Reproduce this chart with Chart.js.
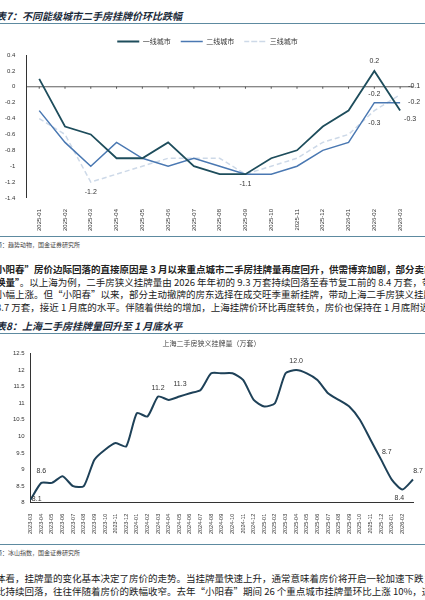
<!DOCTYPE html>
<html><head><meta charset="utf-8">
<script src="https://cdn.jsdelivr.net/npm/chart.js@4"></script>
<style>
body{margin:0;width:425px;height:600px;overflow:hidden;background:#fff;font-family:"Noto Sans CJK SC",sans-serif;position:relative}
.t{position:absolute;white-space:nowrap;color:#222}
.h{font-size:10px;font-weight:bold;font-style:italic;color:#1a2a3a}
.rule{position:absolute;left:0;width:425px;height:1px;background:#5d8aa0}
.src{font-size:6px;color:#444}
.p{font-size:9.5px;line-height:12.5px;color:#222}
canvas{position:absolute}
</style></head><body>
<div class="t h" style="left:-4px;top:8px">表7：不同能级城市二手房挂牌价环比跌幅</div>
<div class="rule" style="top:23px"></div>
<div style="position:absolute;left:0;top:28px;width:425px;height:206px"><canvas id="c1"></canvas></div>
<div class="rule" style="top:236px"></div>
<div class="t src" style="left:-4px;top:240px">源：趋势动物，国金证券研究所</div>
<div class="t p" style="left:-4px;top:263px"><b>小阳春”房价边际回落的直接原因是 3 月以来重点城市二手房挂牌量再度回升，供需博弈加剧，部分卖家选择“</b><br><b>换量”</b>。以上海为例，二手房狭义挂牌量由 2026 年年初的 9.3 万套持续回落至春节复工前的 8.4 万套，带动上海<br>小幅上涨。但“小阳春”以来，部分主动撤牌的房东选择在成交旺季重新挂牌，带动上海二手房狭义挂牌量再度<br>8.7 万套，接近 1 月底的水平。伴随着供给的增加，上海挂牌价环比再度转负，房价也保持在 1 月底附近的水平</div>
<div class="t h" style="left:-4px;top:318px">表8：上海二手房挂牌量回升至 1 月底水平</div>
<div class="rule" style="top:333px"></div>
<div style="position:absolute;left:0;top:337px;width:425px;height:200px"><canvas id="c2"></canvas></div>
<div class="rule" style="top:544px"></div>
<div class="t src" style="left:-4px;top:548px">源：冰山指数，国金证券研究所</div>
<div class="t p" style="left:-4px;top:572px">体看，挂牌量的变化基本决定了房价的走势。当挂牌量快速上升，通常意味着房价将开启一轮加速下跌；当挂牌<br>比持续回落，往往伴随着房价的跌幅收窄。去年“小阳春”期间 26 个重点城市挂牌量环比上涨 10%，这也是“金</div>
<script>
const months1 = ['2025-01','2025-02','2025-03','2025-04','2025-05','2025-06','2025-07','2025-08','2025-09','2025-10','2025-11','2025-12','2026-01','2026-02','2026-03'];
const tier1 = [0.1,-0.5,-0.6,-0.9,-0.9,-0.7,-1.0,-1.1,-1.1,-0.9,-0.8,-0.5,-0.3,0.2,-0.3];
const tier2 = [-0.3,-0.7,-1.0,-0.7,-0.9,-1.0,-0.9,-1.0,-1.1,-1.1,-1.0,-0.8,-0.7,-0.2,-0.2];
const tier3 = [-0.4,-0.6,-1.2,-1.1,-1.0,-0.9,-0.9,-0.9,-1.1,-1.0,-0.9,-0.7,-0.6,-0.3,-0.1];
const months2 = ['2023-03','2023-04','2023-05','2023-06','2023-07','2023-08','2023-09','2023-10','2023-11','2023-12',
 '2024-01','2024-02','2024-03','2024-04','2024-05','2024-06','2024-07','2024-08','2024-09','2024-10','2024-11','2024-12',
 '2025-01','2025-02','2025-03','2025-04','2025-05','2025-06','2025-07','2025-08','2025-09','2025-10','2025-11','2025-12',
 '2026-01','2026-02','2026-03'];
const listings = [8.1,8.6,8.6,8.8,8.5,8.5,9.3,9.6,9.8,9.7,10.7,10.6,11.2,11.1,11.2,11.3,11.4,11.9,11.9,11.9,11.7,11.1,
 10.9,11.0,11.9,12.0,11.9,11.7,11.3,11.1,10.9,10.5,9.9,9.3,8.7,8.4,8.7];

// point labels: [dataset, index, text, dx, dy]
const labels1 = [[0,13,'0.2',0,-10],[0,14,'-0.3',10,8],[1,13,'-0.2',0,-9],[1,14,'-0.2',14,-1],[2,13,'-0.3',0,12],[2,14,'-0.1',14,-9],[2,2,'-1.2',0,10],[0,8,'-1.1',0,10]];
const labels2 = [[0,0,'8.1',6,0],[0,1,'8.6',0,-12],[0,12,'11.2',0,-9],[0,15,'11.3',-10,-9],[0,25,'12.0',0,-9],[0,34,'8.7',-5,-28],[0,35,'8.4',-3,9],[0,36,'8.7',5,-9]];
const ptLabels = {
  id:'ptLabels',
  afterDatasetsDraw(chart, args, opts) {
    const ctx = chart.ctx;
    ctx.save();
    ctx.font = '7px Arial';
    ctx.fillStyle = '#333';
    ctx.textAlign = 'center';
    ctx.textBaseline = 'middle';
    for (const [d,i,t,dx,dy] of opts.items) {
      const el = chart.getDatasetMeta(d).data[i];
      ctx.fillText(t, el.x+dx, el.y+dy);
    }
    ctx.restore();
  }
};
const zeroLine = {
  id:'zeroLine',
  beforeDatasetsDraw(chart) {
    const y = chart.scales.y.getPixelForValue(0), x = chart.scales.x;
    const ctx = chart.ctx;
    ctx.save(); ctx.strokeStyle='#333'; ctx.lineWidth=0.8;
    ctx.beginPath(); ctx.moveTo(chart.chartArea.left,y); ctx.lineTo(chart.chartArea.right,y); ctx.stroke();
    for (let i=0;i<months1.length;i++){const px=x.getPixelForValue(i);ctx.beginPath();ctx.moveTo(px,y);ctx.lineTo(px,y+2);ctx.stroke();}
    ctx.restore();
  }
};
Chart.defaults.font.family = 'Arial';
Chart.defaults.color = '#333';
new Chart(document.getElementById('c1'), {
  type:'line',
  data:{labels:months1, datasets:[
    {label:'一线城市',data:tier1,borderColor:'#1e4d5c',borderWidth:1.8,pointRadius:0,tension:0},
    {label:'二线城市',data:tier2,borderColor:'#4a78b2',borderWidth:1.5,pointRadius:0,tension:0},
    {label:'三线城市',data:tier3,borderColor:'#cdd9e8',borderWidth:1.5,borderDash:[5,3],pointRadius:0,tension:0}
  ]},
  options:{responsive:true,maintainAspectRatio:false,animation:false,
    layout:{padding:{left:2,right:12,top:0}},
    plugins:{
      legend:{labels:{boxWidth:22,boxHeight:0,font:{size:7,family:'"Noto Sans CJK SC"'},padding:10}},
      tooltip:{enabled:false},
      ptLabels:{items:labels1}
    },
    scales:{
      x:{offset:true,grid:{display:false},border:{display:false},ticks:{font:{size:6},maxRotation:90,minRotation:90,autoSkip:false}},
      y:{min:-1.4,max:0.4,ticks:{stepSize:0.2,font:{size:6},callback:v=>Math.round(v*10)/10},grid:{display:false},border:{color:'#333'}}
    }
  },
  plugins:[ptLabels,zeroLine]
});
new Chart(document.getElementById('c2'), {
  type:'line',
  data:{labels:months2, datasets:[
    {label:'上海二手房狭义挂牌量（万套）',data:listings,borderColor:'#1e4158',borderWidth:2,pointRadius:0,tension:0.2}
  ]},
  options:{responsive:true,maintainAspectRatio:false,animation:false,
    layout:{padding:{left:10,right:12}},
    plugins:{
      legend:{display:false},
      title:{display:true,text:'上海二手房狭义挂牌量（万套）',font:{size:7,family:'"Noto Sans CJK SC"',weight:'normal'},color:'#444',padding:{top:2,bottom:6}},
      tooltip:{enabled:false},
      ptLabels:{items:labels2}
    },
    scales:{
      x:{grid:{display:false,drawTicks:true},border:{color:'#333'},ticks:{font:{size:5.5},maxRotation:90,minRotation:90,autoSkip:false,callback:(v,i)=>i===months2.length-1?'':months2[i]}},
      y:{min:8,max:12.5,ticks:{stepSize:0.5,font:{size:6},callback:v=>String(Math.round(v*10)/10)},grid:{display:false,drawTicks:true,tickLength:3},border:{color:'#333'}}
    }
  },
  plugins:[ptLabels]
});
</script>
</body></html>
